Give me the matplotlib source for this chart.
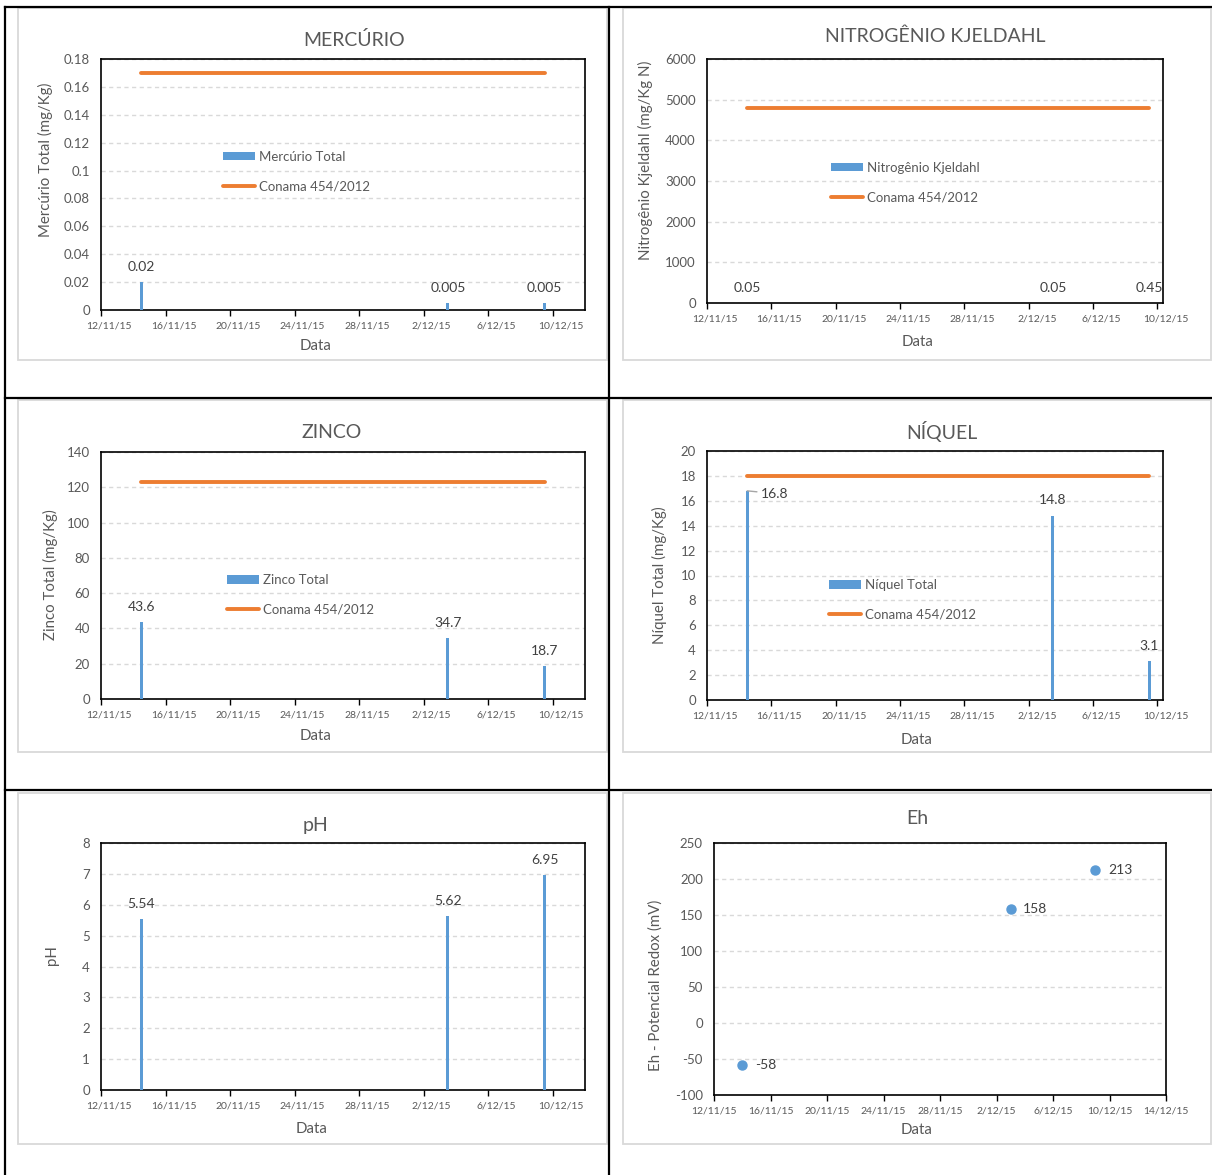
import datetime as dt
import matplotlib
matplotlib.use("Agg")
import matplotlib.pyplot as plt
import matplotlib.dates as mdates
from matplotlib.ticker import FixedLocator, FuncFormatter
from matplotlib.transforms import ScaledTranslation
from matplotlib.lines import Line2D
from matplotlib.patches import Rectangle, Patch

# --- dados das campanhas ---
datas = ["2015-11-14", "2015-12-03", "2015-12-09"]
mercurio = [0.02, 0.005, 0.005]
nitrogenio = [0.05, 0.05, 0.45]
zinco = [43.6, 34.7, 18.7]
niquel = [16.8, 14.8, 3.1]
ph = [5.54, 5.62, 6.95]
eh = [-58, 158, 213]

# limites Conama 454/2012 (nivel 1)
conama_mercurio = 0.17
conama_nitrogenio = 4800
conama_zinco = 123
conama_niquel = 18

W, H = 1212, 1175
CINZA = "#595959"
ROTULO = "#404040"
AZUL = "#5b9bd5"
LARANJA = "#ed7d31"
GRADE = "#d9d9d9"

plt.rcParams["font.family"] = ["Lato", "DejaVu Sans"]

fig = plt.figure(figsize=(W / 100, H / 100), dpi=100)
fig.patch.set_facecolor("white")

x_datas = mdates.date2num([dt.datetime.strptime(d, "%Y-%m-%d") for d in datas])


def px(x, y):
    return x / W, 1 - y / H


def fmt_data(v, pos=None):
    d = mdates.num2date(v)
    return f"{d.day}/{d.month}/{d.year % 100}"


def fmt_num(v, pos=None):
    return f"{v:g}"


def novo_eixo(box, ylim, ystep, inicio, dias, colunas):
    x0, y0, x1, y1 = box
    ax = fig.add_axes([x0 / W, 1 - y1 / H, (x1 - x0) / W, (y1 - y0) / H])
    ini = mdates.date2num(dt.datetime.strptime(inicio, "%Y-%m-%d"))
    ax.set_xlim(ini, ini + dias)
    ax.set_ylim(*ylim)
    ticks_x = [ini + 4 * i for i in range(int(dias) // 4 + 1)]
    n = round((ylim[1] - ylim[0]) / ystep)
    ax.yaxis.set_major_locator(FixedLocator([ylim[0] + ystep * i for i in range(n + 1)]))
    ax.yaxis.set_major_formatter(FuncFormatter(fmt_num))
    ax.xaxis.set_major_locator(FixedLocator(ticks_x))
    ax.xaxis.set_major_formatter(FuncFormatter(fmt_data))
    ax.tick_params(axis="x", length=4, width=1, direction="out",
                   pad=4, labelsize=7.5, labelcolor=CINZA, color="black")
    if colunas:
        # com colunas o rotulo de data fica no meio do dia (meio dia a direita da marca)
        meio_dia = 0.5 * (x1 - x0) / dias / 100
        desloc = ScaledTranslation(meio_dia, 0, fig.dpi_scale_trans)
        for t in ax.xaxis.get_major_ticks():
            t.label1.set_transform(t.label1.get_transform() + desloc)
    ax.tick_params(axis="y", length=0, pad=8, labelsize=9.5, labelcolor=CINZA)
    ax.yaxis.grid(True, color=GRADE, lw=1, ls=(0, (3, 2.5)))
    ax.set_axisbelow(True)
    for s in ax.spines.values():
        s.set_color("black")
        s.set_linewidth(1.2)
    return ax


def textos(titulo, tit_xy, ylabel, ylab_xy, xlab_xy):
    fig.text(*px(*tit_xy), titulo, ha="center", va="center", fontsize=14, color=CINZA)
    fig.text(*px(*ylab_xy), ylabel, ha="center", va="center", rotation=90,
             fontsize=10.8, color=CINZA)
    fig.text(*px(*xlab_xy), "Data", ha="center", va="center", fontsize=10.8, color=CINZA)


def colunas(ax, valores, conama=None, lateral=()):
    xb = x_datas + 0.5
    ax.bar(xb, valores, width=0.2, color=AZUL, zorder=3)
    for i, (x, v) in enumerate(zip(xb, valores)):
        if i in lateral:
            ax.annotate(f"{v:g}", xy=(x, v), xytext=(10, -2), textcoords="offset points",
                        ha="left", va="center", fontsize=10, color=ROTULO,
                        arrowprops=dict(arrowstyle="-", color="#a6a6a6", lw=1,
                                        shrinkA=1, shrinkB=0))
        else:
            ax.annotate(f"{v:g}", xy=(x, v), xytext=(0, 11), textcoords="offset points",
                        ha="center", va="center", fontsize=10, color=ROTULO)
    if conama is not None:
        ax.plot(xb, [conama] * len(xb), color=LARANJA, lw=2.8,
                solid_capstyle="round", zorder=4)


def legenda(ax, rotulo, xy):
    alcas = [Patch(facecolor=AZUL, edgecolor="none"),
             Line2D([], [], color=LARANJA, lw=2.8, solid_capstyle="round")]
    ax.legend(alcas, [rotulo, "Conama 454/2012"], loc="center left",
              bbox_to_anchor=px(*xy), bbox_transform=fig.transFigure,
              frameon=False, borderpad=0, borderaxespad=0, handlelength=2.4,
              handleheight=0.6, handletextpad=0.3, labelspacing=1.35,
              fontsize=9.5, labelcolor=CINZA)


# --- Mercurio ---
ax1 = novo_eixo((101, 59, 585, 310), (0, 0.18), 0.02, "2015-11-12", 30, True)
colunas(ax1, mercurio, conama_mercurio)
legenda(ax1, "Mercúrio Total", (223, 171.5))
textos("MERCÚRIO", (354, 40), "Mercúrio Total (mg/Kg)", (45, 160), (316, 346))

# --- Nitrogenio Kjeldahl ---
ax2 = novo_eixo((707, 59, 1163, 303), (0, 6000), 1000, "2015-11-12", 28.35, True)
colunas(ax2, nitrogenio, conama_nitrogenio)
legenda(ax2, "Nitrogênio Kjeldahl", (831, 182.5))
textos("NITROGÊNIO KJELDAHL", (935, 36), "Nitrogênio Kjeldahl (mg/Kg N)", (645, 160), (918, 342))

# --- Zinco ---
ax3 = novo_eixo((101, 452, 585, 699), (0, 140), 20, "2015-11-12", 30, True)
colunas(ax3, zinco, conama_zinco)
legenda(ax3, "Zinco Total", (227, 595))
textos("ZINCO", (332, 432), "Zinco Total (mg/Kg)", (50, 575), (316, 736))

# --- Niquel ---
ax4 = novo_eixo((707, 451, 1163, 700), (0, 20), 2, "2015-11-12", 28.35, True)
colunas(ax4, niquel, conama_niquel, lateral=(0,))
legenda(ax4, "Níquel Total", (829, 600))
textos("NÍQUEL", (942, 432), "Níquel Total (mg/Kg)", (659, 575), (917, 740))

# --- pH ---
ax5 = novo_eixo((101, 843, 585, 1090), (0, 8), 1, "2015-11-12", 30, True)
colunas(ax5, ph)
textos("pH", (315, 825), "pH", (52, 955), (312, 1129))

# --- Eh ---
ax6 = novo_eixo((714, 843, 1166, 1095), (-100, 250), 50, "2015-11-12", 32, False)
ax6.plot(x_datas, eh, "o", ms=6.5, color=AZUL, zorder=3)
for x, v in zip(x_datas, eh):
    ax6.annotate(f"{v:g}", xy=(x, v), xytext=(9, 0), textcoords="offset points",
                 ha="left", va="center", fontsize=10, color=ROTULO)
textos("Eh", (917, 818), "Eh - Potencial Redox (mV)", (656, 985), (917, 1130))

# --- molduras dos graficos ---
for x0, y0, x1, y1 in [(18, 8, 607, 360), (623, 8, 1211, 360),
                       (18, 400, 607, 752), (623, 400, 1211, 752),
                       (18, 793, 607, 1144), (623, 793, 1211, 1144)]:
    fig.add_artist(Rectangle(px(x0, y1), (x1 - x0) / W, (y1 - y0) / H,
                             transform=fig.transFigure, fill=False,
                             ec="#d9d9d9", lw=1.3, zorder=0))

# --- linhas da tabela ---
for (xa, ya), (xb, yb) in [((5, 7), (1212, 7)), ((5, 398), (1212, 398)),
                           ((5, 790), (1212, 790)), ((5, 7), (5, 1175)),
                           ((609, 7), (609, 1175))]:
    (fa, ga), (fb, gb) = px(xa, ya), px(xb, yb)
    fig.add_artist(Line2D([fa, fb], [ga, gb], transform=fig.transFigure,
                          color="black", lw=1.6))

fig.savefig("out.png", dpi=100, facecolor="white")
